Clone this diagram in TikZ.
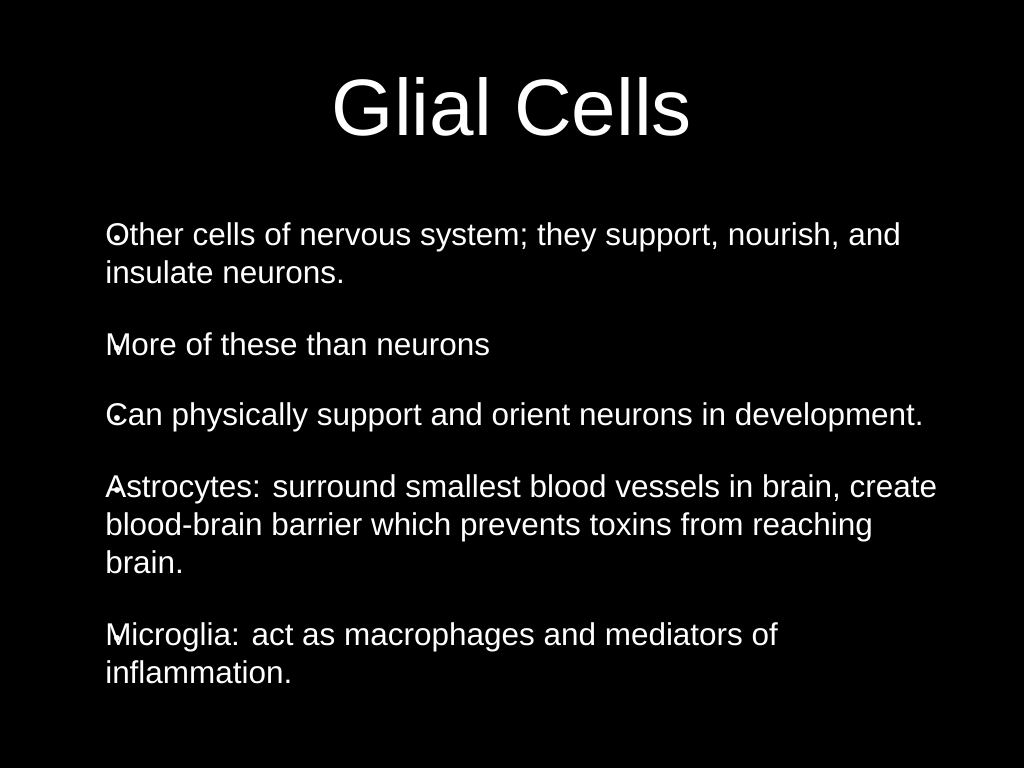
\documentclass[tikz,border=0pt]{standalone}
\usepackage{fontspec}
\setmainfont{Liberation Sans}
\usetikzlibrary{positioning}

\begin{document}
\begin{tikzpicture}[x=0.75pt,y=-0.75pt,
    bodytext/.style={text=white,anchor=north west,align=left,inner sep=0pt,
        font=\fontsize{23.6pt}{28.5pt}\selectfont},
    dot/.style={text=white,anchor=base,inner sep=0pt,font=\fontsize{16pt}{16pt}\selectfont}]
    \fill[black] (0,0) rectangle (1024,768);
    \useasboundingbox (0,0) rectangle (1024,768);

    \node[text=white,anchor=base,inner sep=0pt,font=\fontsize{60pt}{60pt}\selectfont] (title) at (512,135) {Glial Cells};

    % bullets
    \foreach \y [count=\k] in {245,355,425,497,645}{
        \node[dot] (dot\k) at (117,\y) {•};
    }
    \node[bodytext] (item1) at (105,222) {Other cells of nervous system; they support, nourish, and\\insulate neurons.};
    \node[bodytext] (item2) at (105,332) {More of these than neurons};
    \node[bodytext] (item3) at (105,402) {Can physically support and orient neurons in development.};
    \node[bodytext] (item4) at (105,474) {Astrocytes: surround smallest blood vessels in brain, create\\blood-brain barrier which prevents toxins from reaching\\brain.};
    \node[bodytext] (item5) at (105,622) {Microglia: act as macrophages and mediators of\\inflammation.};
\end{tikzpicture}
\end{document}
